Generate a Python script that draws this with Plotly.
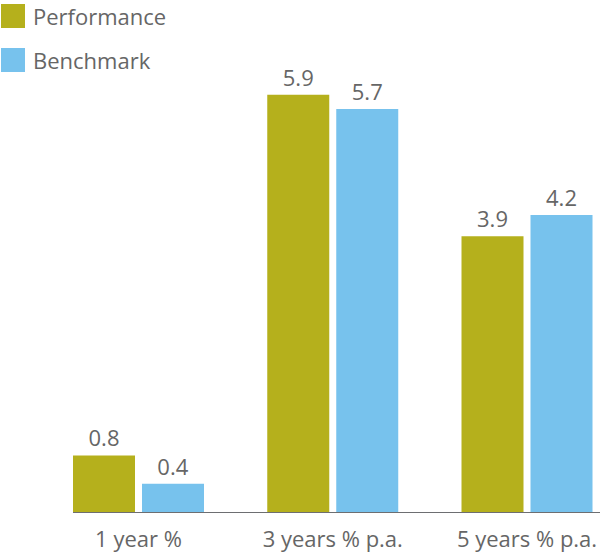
import plotly.graph_objects as go

categories = ["1 year %", "3 years % p.a.", "5 years % p.a."]
performance = [0.8, 5.9, 3.9]
benchmark = [0.4, 5.7, 4.2]
series_names = ["Performance", "Benchmark"]
colors = ["#b5b01c", "#77c2ed"]

W, H = 600, 553
ML, MR, MT, MB = 73, 0, 0, 41
plot_w = W - ML - MR
plot_h = H - MT - MB
font_family = "Open Sans"
text_color = "#666666"

fig = go.Figure()
for name, vals, col in zip(series_names, [performance, benchmark], colors):
    fig.add_trace(go.Bar(
        x=categories, y=vals, name=name, marker=dict(color=col, line=dict(width=0)),
        texttemplate="%{y:.1f}", textposition="outside", cliponaxis=False,
        textfont=dict(family=font_family, size=22, color=text_color),
        showlegend=False, hoverinfo="skip",
    ))

def px_x(p):
    return (p - ML) / plot_w

def px_y(p):
    return 1 - (p - MT) / plot_h

shapes = []
annotations = []
for i, (name, col) in enumerate(zip(series_names, colors)):
    top = 4 + i * 44
    shapes.append(dict(type="rect", xref="paper", yref="paper",
                       x0=px_x(1), x1=px_x(25), y0=px_y(top + 24), y1=px_y(top),
                       fillcolor=col, line=dict(width=0)))
    annotations.append(dict(text=name, xref="paper", yref="paper",
                            x=px_x(31), y=px_y(top + 12), xanchor="left", yanchor="middle",
                            showarrow=False,
                            font=dict(family=font_family, size=22, color=text_color)))

unit = 194.25
c0 = 138.5
fig.update_layout(
    width=W, height=H,
    margin=dict(l=ML, r=MR, t=MT, b=MB, pad=0),
    paper_bgcolor="white", plot_bgcolor="white",
    barmode="group", bargap=0.2896, bargroupgap=0.1014,
    shapes=shapes, annotations=annotations,
    showlegend=False,
    xaxis=dict(
        range=[(ML - c0) / unit, (W - MR - c0) / unit],
        showline=True, linecolor="#6d6e71", linewidth=1,
        showgrid=False, zeroline=False, ticks="",
        ticklabelstandoff=8,
        tickfont=dict(family=font_family, size=22, color=text_color),
        fixedrange=True,
    ),
    yaxis=dict(
        range=[0, plot_h / 70.7],
        visible=False, showgrid=False, zeroline=False, fixedrange=True,
    ),
    font=dict(family=font_family, color=text_color),
)

fig.write_html("out.html", config={"displayModeBar": False})
